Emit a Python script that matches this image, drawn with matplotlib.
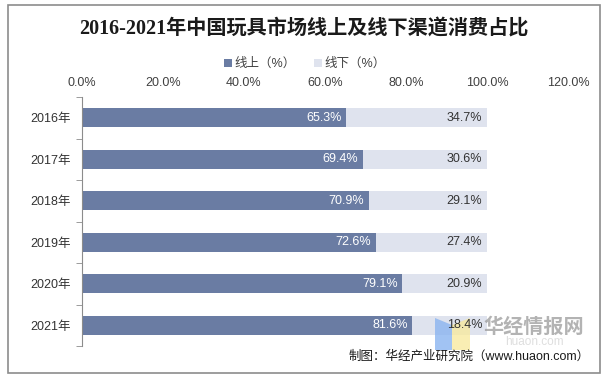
import numpy as np
import matplotlib.pyplot as plt
from matplotlib.patches import Rectangle, Polygon

plt.rcParams['font.family'] = ['Liberation Sans', 'Noto Sans CJK SC', 'DejaVu Sans']

years = ['2016年', '2017年', '2018年', '2019年', '2020年', '2021年']
online = [65.3, 69.4, 70.9, 72.6, 79.1, 81.6]
offline = [34.7, 30.6, 29.1, 27.4, 20.9, 18.4]
xticks = [0, 20, 40, 60, 80, 100, 120]

c_on = '#6a7ca3'
c_off = '#dfe3ee'

fig = plt.figure(figsize=(6.07, 3.79), dpi=100)
fig.patches.append(Rectangle((8 / 607, 1 - 373 / 379), 592 / 607, 368 / 379,
                             transform=fig.transFigure, fill=False,
                             edgecolor='#8c8c8c', linewidth=1.2))

ax = fig.add_axes([82 / 607, 1 - 346 / 379, 486 / 607, 249 / 379])
y = np.arange(len(years))
b1 = ax.barh(y, online, height=0.45, color=c_on, label='线上（%）', zorder=1)
b2 = ax.barh(y, offline, left=online, height=0.45, color=c_off, label='线下（%）', zorder=1)

for i in range(len(years)):
    ax.text(online[i] - 1.2, y[i], f'{online[i]:.1f}%', ha='right', va='center',
            color='white', fontsize=9, zorder=3)
    ax.text(online[i] + offline[i] - 1.2, y[i], f'{offline[i]:.1f}%', ha='right',
            va='center', color='#333333', fontsize=9, zorder=3)

ax.set_xlim(0, 120)
ax.set_ylim(5.5, -0.5)
ax.set_xticks(xticks)
ax.set_xticklabels([f'{v:.1f}%' for v in xticks], fontsize=9, color='#404040')
ax.xaxis.tick_top()
ax.tick_params(axis='x', length=0, pad=6)
ax.set_yticks(y)
ax.set_yticklabels(years, fontsize=9, color='#333333')
ax.set_yticks(np.arange(-0.5, 6, 1), minor=True)
ax.tick_params(axis='y', which='major', length=0, pad=8)
ax.tick_params(axis='y', which='minor', length=4, color='#8c8c8c')
for s in ['top', 'right', 'bottom']:
    ax.spines[s].set_visible(False)
ax.spines['left'].set_color('#8c8c8c')

fig.text(304 / 607, 1 - 30 / 379, '2016-2021年中国玩具市场线上及线下渠道消费占比',
         ha='center', va='center', fontsize=14.5, fontweight='bold', color='#1a1a1a',
         family=['Liberation Serif', 'Noto Sans CJK SC'])
fig.legend(handles=[b1, b2], loc='center', bbox_to_anchor=(305 / 607, 1 - 64 / 379),
           ncol=2, frameon=False, fontsize=9, handlelength=0.6, handleheight=0.6,
           handletextpad=0.2, columnspacing=1.5, labelcolor='#404040')

# watermark logo (between bars and labels)
ax.add_patch(Polygon([(435 / 607, 1 - 318 / 379), (452 / 607, 1 - 325 / 379),
                      (452 / 607, 1 - 350 / 379), (435 / 607, 1 - 350 / 379)],
                     closed=True, transform=fig.transFigure, clip_on=False, zorder=2,
                     facecolor='#8ab4f0', alpha=0.8, edgecolor='none'))
ax.add_patch(Polygon([(452 / 607, 1 - 325 / 379), (470 / 607, 1 - 318 / 379),
                      (470 / 607, 1 - 350 / 379), (452 / 607, 1 - 350 / 379)],
                     closed=True, transform=fig.transFigure, clip_on=False, zorder=2,
                     facecolor='#f8eaa0', alpha=0.8, edgecolor='none'))
fig.text(534 / 607, 1 - 327 / 379, '华经情报网', ha='center', va='center',
         fontsize=14.5, fontweight='bold', color='#9a9a9a', alpha=0.75)
fig.text(534 / 607, 1 - 342 / 379, 'huaon.com', ha='center', va='center',
         fontsize=8.5, color='#c8c8c8', alpha=0.6)
fig.text(590 / 607, 1 - 357 / 379, '制图：华经产业研究院（www.huaon.com）',
         ha='right', va='center', fontsize=9, color='#1a1a1a')

fig.savefig('out.png', dpi=100)
